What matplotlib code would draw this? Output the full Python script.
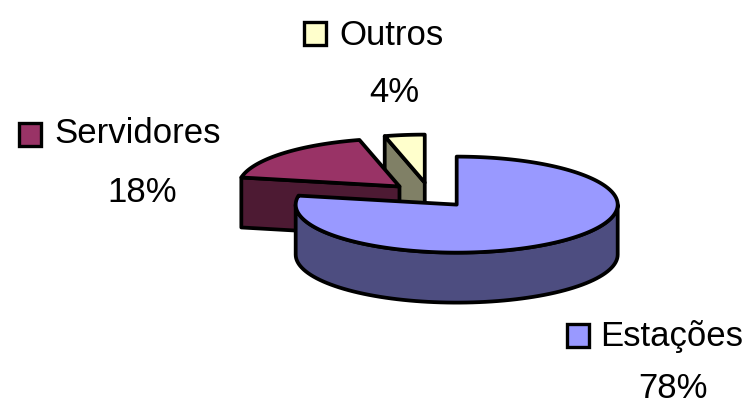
import matplotlib.pyplot as plt
import numpy as np
from matplotlib.patches import Polygon, Rectangle

# data
labels = ["Estações", "Servidores", "Outros"]
values = [78, 18, 4]
top_colors = ["#9999FF", "#993366", "#FFFFCC"]
side_colors = ["#4D4D80", "#4D1A33", "#808066"]

# pie geometry (pixels)
cx, cy = 430, 195
rx, ry = 161, 48
depth = 50
explode = 0.26
lw = 2.7

# label layout: (square x, square y, name x, name baseline, pct x, pct baseline)
label_pos = {
    "Estações": (578, 335, 600, 346, 673, 398),
    "Servidores": (30, 134, 54, 143, 142, 202),
    "Outros": (315, 33, 339, 45, 394, 102),
}

fig = plt.figure(figsize=(7.53, 4.05), dpi=100)
ax = fig.add_axes([0, 0, 1, 1])
ax.set_xlim(0, 753)
ax.set_ylim(405, 0)
ax.axis("off")


def pt(x0, y0, phi, r=1.0, dz=0.0):
    return (x0 + r * rx * np.sin(phi), y0 - r * ry * np.cos(phi) + dz)


total = sum(values)
starts = np.cumsum([0] + values[:-1]) / total * 2 * np.pi
ends = np.cumsum(values) / total * 2 * np.pi

slices = []
for i in range(len(values)):
    a, b = starts[i], ends[i]
    mid = (a + b) / 2
    ox, oy = pt(cx, cy, mid, explode)
    slices.append((i, a, b, ox, oy))

# back to front: order by apex y
slices.sort(key=lambda s: s[4])

for i, a, b, ox, oy in slices:
    kw = dict(edgecolor="black", linewidth=lw, joinstyle="round", zorder=2)
    # radial faces facing the viewer
    for ang, vis in ((a, np.sin(a) < -1e-6), (b, np.sin(b) > 1e-6)):
        if vis:
            p = pt(ox, oy, ang)
            poly = [(ox, oy), p, (p[0], p[1] + depth), (ox, oy + depth)]
            ax.add_patch(Polygon(poly, closed=True, facecolor=side_colors[i], **kw))
    # outer side between 90 and 270 degrees
    lo, hi = max(a, np.pi / 2), min(b, 3 * np.pi / 2)
    if hi > lo:
        t = np.linspace(lo, hi, 80)
        topa = [pt(ox, oy, x) for x in t]
        bota = [pt(ox, oy, x, dz=depth) for x in t[::-1]]
        ax.add_patch(Polygon(topa + bota, closed=True, facecolor=side_colors[i], **kw))
    # top face
    t = np.linspace(a, b, 200)
    poly = [(ox, oy)] + [pt(ox, oy, x) for x in t]
    ax.add_patch(Polygon(poly, closed=True, facecolor=top_colors[i], **kw))

# labels
font = dict(family="Liberation Sans", fontsize=25, color="black")
for i, name in enumerate(labels):
    sx, sy, nx, ny, px, py = label_pos[name]
    ax.add_patch(Rectangle((sx - 11, sy - 11.5), 22, 23, facecolor=top_colors[i],
                           edgecolor="black", linewidth=2.4, zorder=3))
    ax.text(nx, ny, name, ha="left", va="baseline", **font)
    ax.text(px, py, "%d%%" % round(values[i] / total * 100), ha="center", va="baseline", **font)

fig.savefig("out.png", dpi=100)
